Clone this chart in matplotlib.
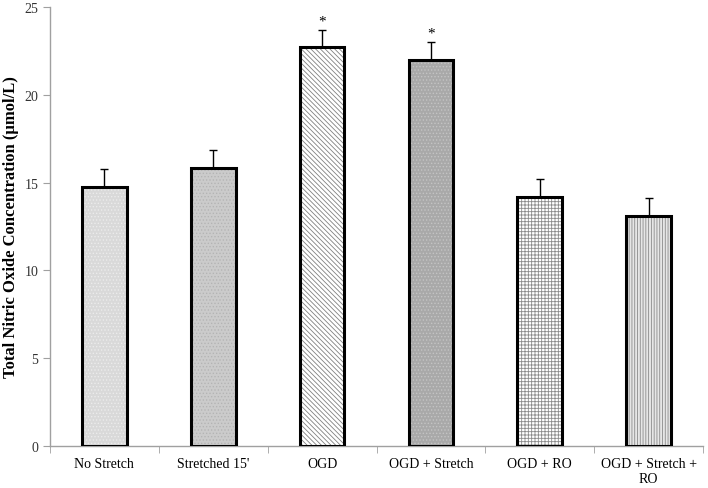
import matplotlib
matplotlib.use('Agg')
import matplotlib.pyplot as plt

plt.rcParams['font.family'] = ['Liberation Serif', 'DejaVu Serif']
plt.rcParams['hatch.linewidth'] = 0.6

categories = ["No Stretch", "Stretched 15'", "OGD", "OGD + Stretch", "OGD + RO", "OGD + Stretch +\nRO"]
means = [14.75, 15.85, 22.7, 22.0, 14.2, 13.1]
errors = [1.0, 1.0, 1.0, 1.0, 1.0, 1.0]
stars = ["", "", "*", "*", "", ""]

fills = ['#d9d9d9', '#cbcbcb', 'white', '#a9a9a9', 'white', '#e6e6e6']
hatch_cols = ['#ececec', '#b4b4b4', '#808080', '#c4c4c4', '#8a8a8a', '#8a8a8a']
hatches = ['.....', '.....', '\\\\\\\\\\\\\\', '.....', '+++++', '||||||']

fig = plt.figure(figsize=(7.08, 4.89), dpi=100)
ax = fig.add_axes([0.0706, 0.0859, 0.9224, 0.8977])

x = list(range(len(categories)))
w = 0.41
for i in x:
    ax.bar(i, means[i], width=w, color=fills[i], hatch=hatches[i],
           edgecolor=hatch_cols[i], linewidth=0, zorder=2)
    ax.bar(i, means[i], width=w, fill=False, edgecolor='black', linewidth=2.2, zorder=3)
    ax.errorbar(i, means[i] + errors[i] / 2, yerr=errors[i] / 2, fmt='none',
                ecolor='black', elinewidth=1, capsize=3, capthick=1, zorder=1)
    if stars[i]:
        ax.text(i, means[i] + errors[i] + 0.15, stars[i], ha='center', va='bottom', fontsize=11)

ax.set_xlim(-0.5, len(categories) - 0.5)
ax.set_ylim(0, 25)
ax.set_yticks([0, 5, 10, 15, 20, 25])
ax.set_xticks(x)
ax.set_xticklabels(categories, fontsize=10)
ax.set_xticks([i + 0.5 for i in range(-1, len(categories))], minor=True)
ax.tick_params(axis='x', which='major', length=0, pad=8)
ax.tick_params(axis='x', which='minor', length=5, color='#a0a0a0', direction='out')
ax.tick_params(axis='y', length=5, color='#a0a0a0', labelsize=10, labelcolor='#333333')
ax.set_ylabel("Total Nitric Oxide Concentration (\u00b5mol/L)", fontsize=12, fontweight='bold')

for s in ['top', 'right']:
    ax.spines[s].set_visible(False)
for s in ['left', 'bottom']:
    ax.spines[s].set_color('#a0a0a0')
    ax.spines[s].set_linewidth(1)

fig.savefig('out.png', dpi=100)
